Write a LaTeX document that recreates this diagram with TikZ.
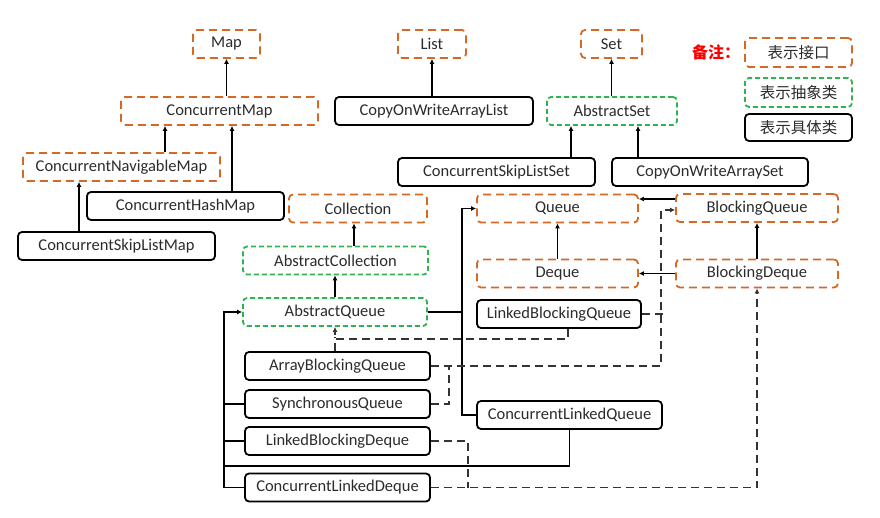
\documentclass[tikz,border=0pt]{standalone}
\usepackage{fontspec}
\setmainfont{Carlito}
\newfontfamily\cjk{Noto Sans CJK SC}
\usetikzlibrary{arrows.meta}
\definecolor{ifaceorange}{HTML}{D26A25}
\definecolor{abstrgreen}{HTML}{2EB350}
\definecolor{txtgray}{HTML}{2B2B2B}

\begin{document}
\begin{tikzpicture}[x=1pt,y=-1pt,
  font=\fontsize{16.5}{19}\selectfont,
  cls/.style={rounded corners=4pt, line width=1.8pt, minimum height=28pt, inner sep=0pt, text=txtgray},
  iface/.style={cls, draw=ifaceorange, dash pattern=on 8pt off 5pt},
  abstr/.style={cls, draw=abstrgreen, dash pattern=on 5pt off 3pt},
  impl/.style={cls, draw=black},
  ext/.style={-{Latex[length=5pt,width=5pt]}, line width=1.8pt},
  dep/.style={line width=1.8pt, draw=black!80, dash pattern=on 8pt off 5pt},
  deparr/.style={dep, -{Latex[length=5pt,width=5pt]}}
]
\useasboundingbox (0,0) rectangle (880,518);

% maps, lists and sets
\node[iface, minimum width=67pt] (map) at (226.5,44) {Map};
\node[iface, minimum width=68pt] (list) at (432,44) {List};
\node[iface, minimum width=61pt] (set) at (611.5,44) {Set};
\node[iface, minimum width=197pt] (cmap) at (219.5,111) {ConcurrentMap};
\node[impl, minimum width=198pt] (cowal) at (434,111) {CopyOnWriteArrayList};
\node[abstr, minimum width=130pt] (aset) at (612,111) {AbstractSet};
\node[iface, minimum width=197pt] (cnmap) at (121.5,167) {ConcurrentNavigableMap};
\node[impl, minimum width=197pt] (csls) at (496.5,172) {ConcurrentSkipListSet};
\node[impl, minimum width=196pt] (cowas) at (710,172) {CopyOnWriteArraySet};
\node[impl, minimum width=197pt] (chmap) at (185.5,206) {ConcurrentHashMap};
\node[impl, minimum width=197pt] (cslm) at (116.5,246) {ConcurrentSkipListMap};

% queues
\node[iface, minimum width=138pt] (coll) at (358,208.5) {Collection};
\node[iface, minimum width=161pt] (queue) at (557.5,208.5) {Queue};
\node[iface, minimum width=162pt] (bq) at (757,208) {BlockingQueue};
\node[abstr, minimum width=185pt] (acoll) at (335.5,260.5) {AbstractCollection};
\node[iface, minimum width=161pt] (deque) at (557.5,273.5) {Deque};
\node[iface, minimum width=162pt] (bd) at (757,273.5) {BlockingDeque};
\node[abstr, minimum width=184pt] (aq) at (335,312) {AbstractQueue};
\node[impl, minimum width=164pt] (lbq) at (559,314) {LinkedBlockingQueue};
\node[impl, minimum width=185pt] (abq) at (337.5,366) {ArrayBlockingQueue};
\node[impl, minimum width=185pt] (sq) at (337.5,404) {SynchronousQueue};
\node[impl, minimum width=185pt] (lbd) at (337.5,441) {LinkedBlockingDeque};
\node[impl, minimum width=185pt] (cld) at (337.5,487.5) {ConcurrentLinkedDeque};
\node[impl, minimum width=185pt] (clq) at (569.5,415) {ConcurrentLinkedQueue};

% legend
\node[text=red, font=\cjk\bfseries\fontsize{16}{18}\selectfont] (note) at (716,52) {备注：};
\node[iface, minimum width=107pt, minimum height=29pt, font=\cjk\fontsize{15.5}{18}\selectfont] (lgiface) at (798.5,52.5) {表示接口};
\node[abstr, minimum width=107pt, minimum height=29pt, font=\cjk\fontsize{15.5}{18}\selectfont] (lgabstr) at (798.5,92.5) {表示抽象类};
\node[impl, minimum width=107pt, minimum height=27pt, font=\cjk\fontsize{15.5}{18}\selectfont] (lgimpl) at (798.5,127.5) {表示具体类};

% solid inheritance
\draw[ext] (map.south |- cmap.north) -- (map.south);
\draw[ext] (list.south |- cowal.north) -- (list.south);
\draw[ext] (set.south |- aset.north) -- (set.south);
\draw[ext] ([xshift=43.5pt]cnmap.north) -- ([xshift=43.5pt]cnmap.north |- cmap.south);
\draw[ext] ([xshift=46.5pt]chmap.north) -- ([xshift=46.5pt]chmap.north |- cmap.south);
\draw[ext] ([xshift=-37.5pt]cslm.north) -- ([xshift=-37.5pt]cslm.north |- cnmap.south);
\draw[ext] ([xshift=74.5pt]csls.north) -- ([xshift=74.5pt]csls.north |- aset.south);
\draw[ext] ([xshift=-72pt]cowas.north) -- ([xshift=-72pt]cowas.north |- aset.south);
\draw[ext] ([xshift=18.5pt]acoll.north) -- ([xshift=18.5pt]acoll.north |- coll.south);
\draw[ext] (aq.north) -- (aq.north |- acoll.south);
\draw[ext] (deque.north) -- (queue.south);
\draw[ext] (bd.north) -- (bq.south);
\draw[ext] ([yshift=9pt]bq.west) -- ([yshift=9pt]bq.west -| queue.east);
\draw[ext] (bd.west) -- (deque.east);
\draw[ext] (aq.east) -- ++(34,0) |- (queue.west);
\draw[line width=1.8pt] (clq.west) -| ([xshift=34pt]aq.east);
\draw[ext] (cld.west) -- ++(-20,0) |- (aq.west);
\draw[line width=1.8pt] (sq.west) -- ++(-20,0);
\draw[line width=1.8pt] (lbd.west) -- ++(-20,0);
\draw[line width=1.8pt] (clq.south) |- ++(-344.5,36);

% dashed links
\draw[deparr] ([xshift=9pt]lbq.south) -- ++(0,10) -| (aq.south);
\draw[dep] (abq.north -| aq.south) -- ++(0,-14);
\draw[deparr] (abq.east) -| ([xshift=-14pt,yshift=-2pt]bq.west) -- ([yshift=-2pt]bq.west);
\draw[dep] (lbq.east) -- ++(21,0);
\draw[dep] (sq.east) -| ([xshift=18pt]abq.east);
\draw[dep] (lbd.east) -| ([xshift=37pt]cld.east);
\draw[deparr] (cld.east) -| (bd.south);
\end{tikzpicture}
\end{document}
